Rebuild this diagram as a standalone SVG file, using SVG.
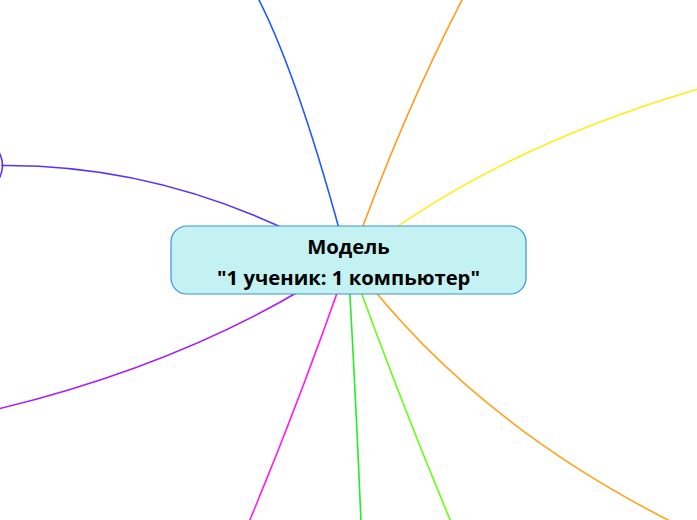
<svg xmlns="http://www.w3.org/2000/svg" width="697" height="520" viewBox="0 0 697 520">
<style>
.c{fill:none;stroke-width:1.6;stroke-linecap:round}
.t{font-family:"Open Sans","Noto Sans",sans-serif;font-weight:bold;font-size:20.3px;fill:#000;text-anchor:middle}
</style>
<rect width="697" height="520" fill="#fff"/>
<g id="connectors">
<path class="c" stroke="#1f5cff" d="M348 262 Q300 80 258 -2"/>
<path class="c" stroke="#ff9c1c" d="M350 262 Q400 120 463 -2"/>
<path class="c" stroke="#ffee1e" d="M352 260 Q490 150 698 89"/>
<path class="c" stroke="#5a33f2" d="M348 262 Q180 164 2 165.5"/>
<path class="c" stroke="#5a33f2" d="M0 154 Q5 165.5 0 177"/>
<path class="c" stroke="#a81ff2" d="M346 262 Q200 360 -2 409"/>
<path class="c" stroke="#ff1ee6" d="M348 262 Q300 400 249 522"/>
<path class="c" stroke="#22ee22" d="M348 262 Q355 380 361 522"/>
<path class="c" stroke="#66ff11" d="M350 262 Q400 400 451 522"/>
<path class="c" stroke="#ffa21e" d="M352 262 Q470 420 672 522"/>
</g>
<g id="node-root">
<rect x="171" y="226" width="355" height="68" rx="16" fill="#c4f2f2" stroke="#3a92d8" stroke-width="1.2"/>
<text class="t" x="348.5" y="254">Модель</text>
<text class="t" x="348.5" y="285">"1 ученик: 1 компьютер"</text>
</g>
</svg>
